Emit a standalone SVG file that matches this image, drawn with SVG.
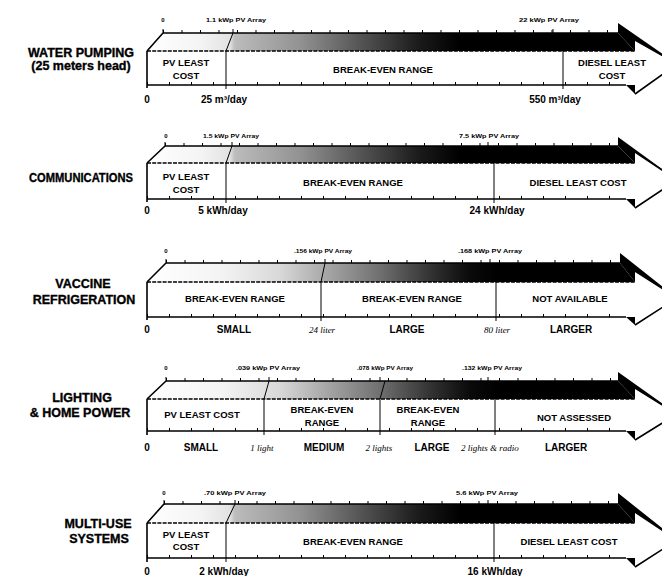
<svg xmlns="http://www.w3.org/2000/svg" width="662" height="576" viewBox="0 0 662 576">
<style>
.edge{stroke:#000;stroke-width:1.6;fill:none}
.thin{stroke:#000;stroke-width:1;fill:none}
.dash{stroke:#000;stroke-width:1.4;fill:none;stroke-dasharray:4 1.2}
.tt{stroke:#000;stroke-width:3;fill:none;stroke-dasharray:1 17.5}
.bt{stroke:#000;stroke-width:3;fill:none;stroke-dasharray:1 21}
.lbl{font-family:"Liberation Sans",Arial,sans-serif;font-weight:bold;fill:#000;text-anchor:middle}
.row{font-size:12.5px;stroke:#000;stroke-width:0.35}
.box{font-size:9.5px}
.axis{font-size:10px}
.tiny{font-size:6px}
.it{font-family:"Liberation Serif","Times New Roman",serif;font-style:italic;font-weight:normal;font-size:9px;fill:#000;text-anchor:middle}
</style>
<defs>
<linearGradient id="gA" gradientUnits="userSpaceOnUse" x1="147" y1="0" x2="635" y2="0">
<stop offset="0" stop-color="#fff"/>
<stop offset="0.109" stop-color="#f4f4f4"/>
<stop offset="0.170" stop-color="#e2e2e2"/>
<stop offset="0.180" stop-color="#bcbcbc"/>
<stop offset="0.314" stop-color="#929292"/>
<stop offset="0.436" stop-color="#555"/>
<stop offset="0.559" stop-color="#1a1a1a"/>
<stop offset="0.641" stop-color="#000"/>
<stop offset="1" stop-color="#000"/>
</linearGradient>
<linearGradient id="gB" gradientUnits="userSpaceOnUse" x1="147" y1="0" x2="635" y2="0">
<stop offset="0" stop-color="#fff"/>
<stop offset="0.150" stop-color="#f4f4f4"/>
<stop offset="0.273" stop-color="#d8d8d8"/>
<stop offset="0.365" stop-color="#a8a8a8"/>
<stop offset="0.477" stop-color="#707070"/>
<stop offset="0.580" stop-color="#333"/>
<stop offset="0.662" stop-color="#0a0a0a"/>
<stop offset="0.723" stop-color="#000"/>
<stop offset="1" stop-color="#000"/>
</linearGradient>
</defs>
<rect width="662" height="576" fill="#fff"/>

<g id="water-pumping">
<text class="lbl row" x="81" y="57">WATER PUMPING</text>
<text class="lbl row" x="81" y="70">(25 meters head)</text>
<polygon fill="url(#gA)" points="147,51 163,33 618,33 635,51"/>
<polygon fill="#000" points="618,33 618,23 677,64 635,40 635,51"/>
<polygon fill="#fff" points="147,51 635,51 635,40 677,64 635,94 635,85 147,85"/>
<polygon fill="#000" points="626,85 635,85 635,94"/>
<path class="tt" d="M163,31.5 H618"/>
<path class="bt" d="M147,83.5 H626"/>
<path class="dash" d="M147,51 H635"/>
<path class="edge" d="M163,33 H618 M147,51 L163,33 M147,51 V88 M147,85 H626 M635,40 L677,64 L635,94"/>
<path class="thin" d="M226,51 L233,33 M226,51 V89 M233,33 V29 M563,51 V89 M553,33 V29 M163,33 V29"/>
<text class="lbl tiny" x="163" y="22">0</text>
<text class="lbl tiny" x="236" y="22" textLength="60" lengthAdjust="spacingAndGlyphs">1.1 kWp PV Array</text>
<text class="lbl tiny" x="549" y="22" textLength="60" lengthAdjust="spacingAndGlyphs">22 kWp PV Array</text>
<text class="lbl box" x="186" y="66">PV LEAST</text>
<text class="lbl box" x="186" y="79">COST</text>
<text class="lbl box" x="383" y="73">BREAK-EVEN RANGE</text>
<text class="lbl box" x="612" y="66">DIESEL LEAST</text>
<text class="lbl box" x="612" y="79">COST</text>
<text class="lbl axis" x="147" y="103">0</text>
<text class="lbl axis" x="224" y="103">25 m³/day</text>
<text class="lbl axis" x="555" y="103">550 m³/day</text>
</g>

<g id="communications">
<text class="lbl row" x="81" y="182" textLength="104" lengthAdjust="spacingAndGlyphs">COMMUNICATIONS</text>
<polygon fill="url(#gA)" points="147,163 165,146 618,146 635,163"/>
<polygon fill="#000" points="618,146 618,137 677,180 635,152 635,163"/>
<polygon fill="#fff" points="147,163 635,163 635,152 677,180 635,208 635,199 147,199"/>
<polygon fill="#000" points="626,199 635,199 635,208"/>
<path class="tt" d="M165,144.5 H618"/>
<path class="bt" d="M147,197.5 H626"/>
<path class="dash" d="M147,163 H635"/>
<path class="edge" d="M165,146 H618 M147,163 L165,146 M147,163 V202 M147,199 H626 M635,152 L677,180 L635,208"/>
<path class="thin" d="M226,163 L232,146 M226,163 V203 M232,146 V142 M494,163 V203 M488,146 V142 M165,146 V142"/>
<text class="lbl tiny" x="166" y="138">0</text>
<text class="lbl tiny" x="231" y="138" textLength="56" lengthAdjust="spacingAndGlyphs">1.5 kWp PV Array</text>
<text class="lbl tiny" x="489" y="138" textLength="60" lengthAdjust="spacingAndGlyphs">7.5 kWp PV Array</text>
<text class="lbl box" x="186" y="180">PV LEAST</text>
<text class="lbl box" x="186" y="193">COST</text>
<text class="lbl box" x="353" y="186">BREAK-EVEN RANGE</text>
<text class="lbl box" x="578" y="186">DIESEL LEAST COST</text>
<text class="lbl axis" x="147" y="214">0</text>
<text class="lbl axis" x="223" y="214">5 kWh/day</text>
<text class="lbl axis" x="497" y="214">24 kWh/day</text>
</g>

<g id="vaccine-refrigeration">
<text class="lbl row" x="83" y="288">VACCINE</text>
<text class="lbl row" x="84" y="304">REFRIGERATION</text>
<polygon fill="url(#gB)" points="147,282 166,263 620,263 635,282"/>
<polygon fill="#000" points="620,263 620,253 677,298 635,271 635,282"/>
<polygon fill="#fff" points="147,282 635,282 635,271 677,298 635,325 635,317 147,317"/>
<polygon fill="#000" points="626,317 635,317 635,325"/>
<path class="tt" d="M166,261.5 H620"/>
<path class="bt" d="M147,315.5 H626"/>
<path class="dash" d="M147,282 H635"/>
<path class="edge" d="M166,263 H620 M147,282 L166,263 M147,282 V320 M147,317 H626 M635,271 L677,298 L635,325"/>
<path class="thin" d="M321,282 L325,263 M321,282 V321 M325,263 V259 M496,282 V321 M490,263 V259 M166,263 V259"/>
<text class="lbl tiny" x="166" y="253">0</text>
<text class="lbl tiny" x="323" y="253" textLength="58" lengthAdjust="spacingAndGlyphs">.156 kWp PV Array</text>
<text class="lbl tiny" x="490" y="253" textLength="64" lengthAdjust="spacingAndGlyphs">.168 kWp PV Array</text>
<text class="lbl box" x="235" y="302">BREAK-EVEN RANGE</text>
<text class="lbl box" x="412" y="302">BREAK-EVEN RANGE</text>
<text class="lbl box" x="570" y="302">NOT AVAILABLE</text>
<text class="lbl axis" x="147" y="333">0</text>
<text class="lbl axis" x="234" y="333">SMALL</text>
<text class="it" x="322" y="333">24 liter</text>
<text class="lbl axis" x="407" y="333">LARGE</text>
<text class="it" x="497" y="333">80 liter</text>
<text class="lbl axis" x="571" y="333">LARGER</text>
</g>

<g id="lighting-home-power">
<text class="lbl row" x="82" y="402">LIGHTING</text>
<text class="lbl row" x="80" y="417">&amp; HOME POWER</text>
<polygon fill="url(#gB)" points="147,399 166,381 618,381 635,399"/>
<polygon fill="#000" points="618,381 618,372 677,414 635,388 635,399"/>
<polygon fill="#fff" points="147,399 635,399 635,388 677,414 635,440 635,431 147,431"/>
<polygon fill="#000" points="626,431 635,431 635,440"/>
<path class="tt" d="M166,379.5 H618"/>
<path class="bt" d="M147,429.5 H626"/>
<path class="dash" d="M147,399 H635"/>
<path class="edge" d="M166,381 H618 M147,399 L166,381 M147,399 V435 M147,431 H626 M635,388 L677,414 L635,440"/>
<path class="thin" d="M264,399 L269,381 M264,399 V435 M269,381 V377 M380,399 L385,381 M380,399 V435 M380,381 V377 M495,399 V435 M488,381 V377 M166,381 V377"/>
<text class="lbl tiny" x="166" y="370">0</text>
<text class="lbl tiny" x="268" y="370" textLength="64" lengthAdjust="spacingAndGlyphs">.039 kWp PV Array</text>
<text class="lbl tiny" x="385" y="370" textLength="56" lengthAdjust="spacingAndGlyphs">.078 kWp PV Array</text>
<text class="lbl tiny" x="492" y="370" textLength="60" lengthAdjust="spacingAndGlyphs">.132 kWp PV Array</text>
<text class="lbl box" x="202" y="418">PV LEAST COST</text>
<text class="lbl box" x="322" y="413">BREAK-EVEN</text>
<text class="lbl box" x="322" y="426">RANGE</text>
<text class="lbl box" x="428" y="413">BREAK-EVEN</text>
<text class="lbl box" x="428" y="426">RANGE</text>
<text class="lbl box" x="574" y="421">NOT ASSESSED</text>
<text class="lbl axis" x="147" y="451">0</text>
<text class="lbl axis" x="201" y="451">SMALL</text>
<text class="it" x="262" y="451">1 light</text>
<text class="lbl axis" x="324" y="451">MEDIUM</text>
<text class="it" x="379" y="451">2 lights</text>
<text class="lbl axis" x="432" y="451">LARGE</text>
<text class="it" x="490" y="451">2 lights &amp; radio</text>
<text class="lbl axis" x="566" y="451">LARGER</text>
</g>

<g id="multi-use-systems">
<text class="lbl row" x="98" y="528">MULTI-USE</text>
<text class="lbl row" x="99" y="543">SYSTEMS</text>
<polygon fill="url(#gA)" points="147,523 164,504 618,504 635,523"/>
<polygon fill="#000" points="618,504 618,493 677,540 635,512 635,523"/>
<polygon fill="#fff" points="147,523 635,523 635,512 677,540 635,567 635,558 147,558"/>
<polygon fill="#000" points="626,558 635,558 635,567"/>
<path class="tt" d="M164,502.5 H618"/>
<path class="bt" d="M147,556.5 H626"/>
<path class="dash" d="M147,523 H635"/>
<path class="edge" d="M164,504 H618 M147,523 L164,504 M147,523 V562 M147,558 H626 M635,512 L677,540 L635,567"/>
<path class="thin" d="M226,523 L235,504 M226,523 V562 M235,504 V500 M494,523 V562 M488,504 V500 M164,504 V500"/>
<text class="lbl tiny" x="164" y="495">0</text>
<text class="lbl tiny" x="235" y="495" textLength="62" lengthAdjust="spacingAndGlyphs">.70 kWp PV Array</text>
<text class="lbl tiny" x="487" y="495" textLength="62" lengthAdjust="spacingAndGlyphs">5.6 kWp PV Array</text>
<text class="lbl box" x="186" y="538">PV LEAST</text>
<text class="lbl box" x="186" y="550">COST</text>
<text class="lbl box" x="353" y="545">BREAK-EVEN RANGE</text>
<text class="lbl box" x="569" y="545">DIESEL LEAST COST</text>
<text class="lbl axis" x="147" y="575">0</text>
<text class="lbl axis" x="224" y="575">2 kWh/day</text>
<text class="lbl axis" x="495" y="575">16 kWh/day</text>
</g>
</svg>
